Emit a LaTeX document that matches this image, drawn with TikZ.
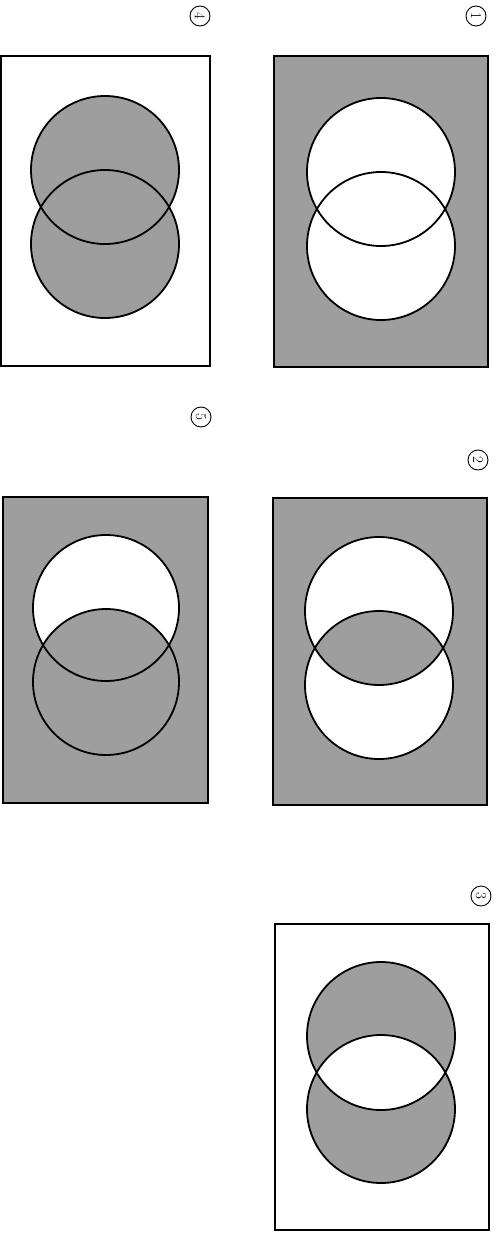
\documentclass[tikz,border=0pt]{standalone}
\definecolor{screen}{gray}{0.62}
\begin{document}
\begin{tikzpicture}[x=1pt, y=-1pt,
    frame/.style={line width=1.8pt},
    ring/.style={line width=1.8pt},
    tag/.style={circle, draw, line width=0.9pt, rotate=-90, minimum size=20pt,
        inner sep=0pt, font=\fontsize{15}{15}\selectfont}]
    \useasboundingbox (0,0) rectangle (500,1233);

    % (1) outside both
    \fill[screen] (274,56) rectangle (488,367);
    \fill[white] (381,172) circle (74) (381,246) circle (74);

    % (2) outside both, plus the overlap
    \fill[screen] (273,498) rectangle (487,805);
    \fill[white] (379,611) circle (74) (379,685) circle (74);
    \begin{scope}
        \clip (379,611) circle (74);
        \fill[screen] (379,685) circle (74);
    \end{scope}

    % (3) one or the other, not both
    \fill[screen] (381,1036) circle (74) (381,1109) circle (74);
    \begin{scope}
        \clip (381,1036) circle (74);
        \fill[white] (381,1109) circle (74);
    \end{scope}

    % (4) either
    \fill[screen] (105,170) circle (74) (105,244) circle (74);

    % (5) all but the top circle alone
    \fill[screen] (3,497) rectangle (208,803);
    \fill[white] (106,608) circle (73);
    \begin{scope}
        \clip (106,608) circle (73);
        \fill[screen] (106,682) circle (73);
    \end{scope}

    % outlines
    \foreach \xa/\ya/\xb/\yb in {274/56/488/367, 273/498/487/805, 275/924/489/1230, 1/56/210/366, 3/497/208/803}
        \draw[frame] (\xa,\ya) rectangle (\xb,\yb);
    \foreach \x/\ya/\yb/\r in {381/172/246/74, 379/611/685/74, 381/1036/1109/74, 105/170/244/74, 106/608/682/73}
        \draw[ring] (\x,\ya) circle (\r) (\x,\yb) circle (\r);

    \node[tag] (one) at (476,16) {1};
    \node[tag] (two) at (478,460) {2};
    \node[tag] (three) at (481,896) {3};
    \node[tag] (four) at (200,16) {4};
    \node[tag] (five) at (201,417) {5};
\end{tikzpicture}
\end{document}
